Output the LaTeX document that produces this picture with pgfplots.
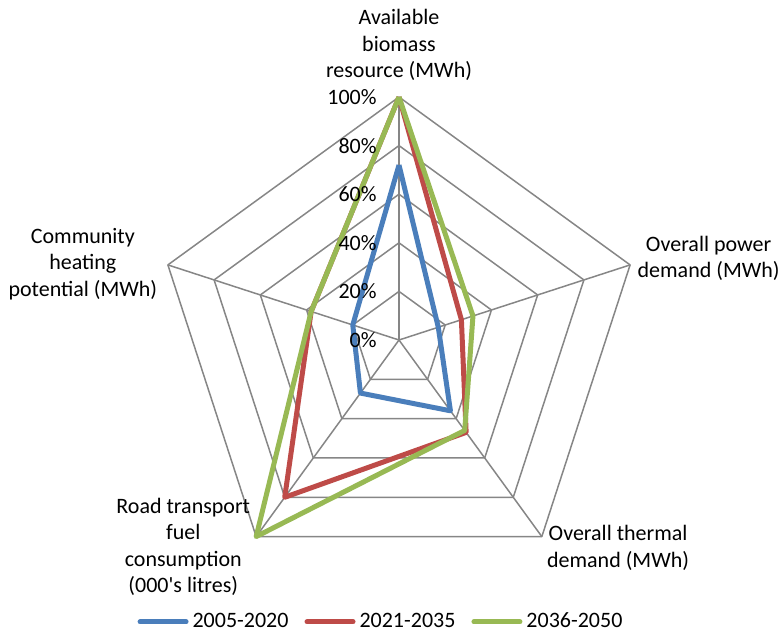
\documentclass[border=0pt]{standalone}
\usepackage{pgfplots}
\pgfplotsset{compat=1.18}
\usepgfplotslibrary{polar}
\usepackage{fontspec}
\setmainfont{Carlito}
\definecolor{s1}{HTML}{4A7EBB}
\definecolor{s2}{HTML}{BE4B48}
\definecolor{s3}{HTML}{98B954}
\definecolor{gridc}{HTML}{868686}

\begin{document}
\begin{tikzpicture}[font=\fontsize{11}{13.25}\selectfont]
\begin{polaraxis}[
  scale only axis, width=243pt, height=243pt,
  xmin=0, xmax=360, ymin=0, ymax=100,
  axis line style={draw=none},
  xtick=\empty, ytick=\empty,
  clip=false,
  legend columns=3,
  legend style={draw=none, fill=none, at={(0.465,-0.08)}, anchor=center,
    /tikz/every even column/.append style={column sep=6pt}},
  legend image code/.code={\draw[line width=2.5pt, line cap=round] (0pt,0pt) -- (23pt,0pt);},
  every axis plot/.append style={line join=round},
]
% pentagon grid
\addplot[gridc, line width=0.75pt, forget plot] coordinates {(90,20)(18,20)(306,20)(234,20)(162,20)(90,20)};
\addplot[gridc, line width=0.75pt, forget plot] coordinates {(90,40)(18,40)(306,40)(234,40)(162,40)(90,40)};
\addplot[gridc, line width=0.75pt, forget plot] coordinates {(90,60)(18,60)(306,60)(234,60)(162,60)(90,60)};
\addplot[gridc, line width=0.75pt, forget plot] coordinates {(90,80)(18,80)(306,80)(234,80)(162,80)(90,80)};
\addplot[gridc, line width=0.75pt, forget plot] coordinates {(90,100)(18,100)(306,100)(234,100)(162,100)(90,100)};
\addplot[gridc, line width=0.75pt, forget plot] coordinates {(90,0)(90,100)};
\addplot[gridc, line width=0.75pt, forget plot] coordinates {(18,0)(18,100)};
\addplot[gridc, line width=0.75pt, forget plot] coordinates {(306,0)(306,100)};
\addplot[gridc, line width=0.75pt, forget plot] coordinates {(234,0)(234,100)};
\addplot[gridc, line width=0.75pt, forget plot] coordinates {(162,0)(162,100)};

% series: biomass, power, thermal, road transport, community heating
\addplot[s1, line width=2.5pt] coordinates {(90,72)(18,17)(306,36)(234,27)(162,20)(90,72)};
\addplot[s2, line width=2.5pt] coordinates {(90,100)(18,27)(306,47)(234,80)(162,38)(90,100)};
\addplot[s3, line width=2.5pt] coordinates {(90,100)(18,32)(306,46)(234,100)(162,38)(90,100)};
\legend{2005-2020,2021-2035,2036-2050}

% radial tick labels
\node[anchor=east, inner sep=0pt, xshift=-11pt] at (axis cs:90,0) {0\%};
\node[anchor=east, inner sep=0pt, xshift=-11pt] at (axis cs:90,20) {20\%};
\node[anchor=east, inner sep=0pt, xshift=-11pt] at (axis cs:90,40) {40\%};
\node[anchor=east, inner sep=0pt, xshift=-11pt] at (axis cs:90,60) {60\%};
\node[anchor=east, inner sep=0pt, xshift=-11pt] at (axis cs:90,80) {80\%};
\node[anchor=east, inner sep=0pt, xshift=-11pt] at (axis cs:90,100) {100\%};

% category labels
\node[align=center] at (axis cs:14.8,131.8) {Overall power\\demand (MWh)};
\node[align=center] at (axis cs:90,121.4) {Available\\biomass\\resource (MWh)};
\node[align=center] at (axis cs:316.5,124.3) {Overall thermal\\demand (MWh)};
\node[align=center] at (axis cs:223.8,123) {Road transport\\fuel\\consumption\\(000\textquotesingle s litres)};
\node[align=center] at (axis cs:166.5,133.8) {Community\\heating\\potential (MWh)};

\coordinate (O) at (axis cs:0,0);
\end{polaraxis}
\pgfresetboundingbox
\path[use as bounding box, shift={(O)}] (-199.5pt,-146.5pt) rectangle (190.5pt,170pt);
\end{tikzpicture}
\end{document}
